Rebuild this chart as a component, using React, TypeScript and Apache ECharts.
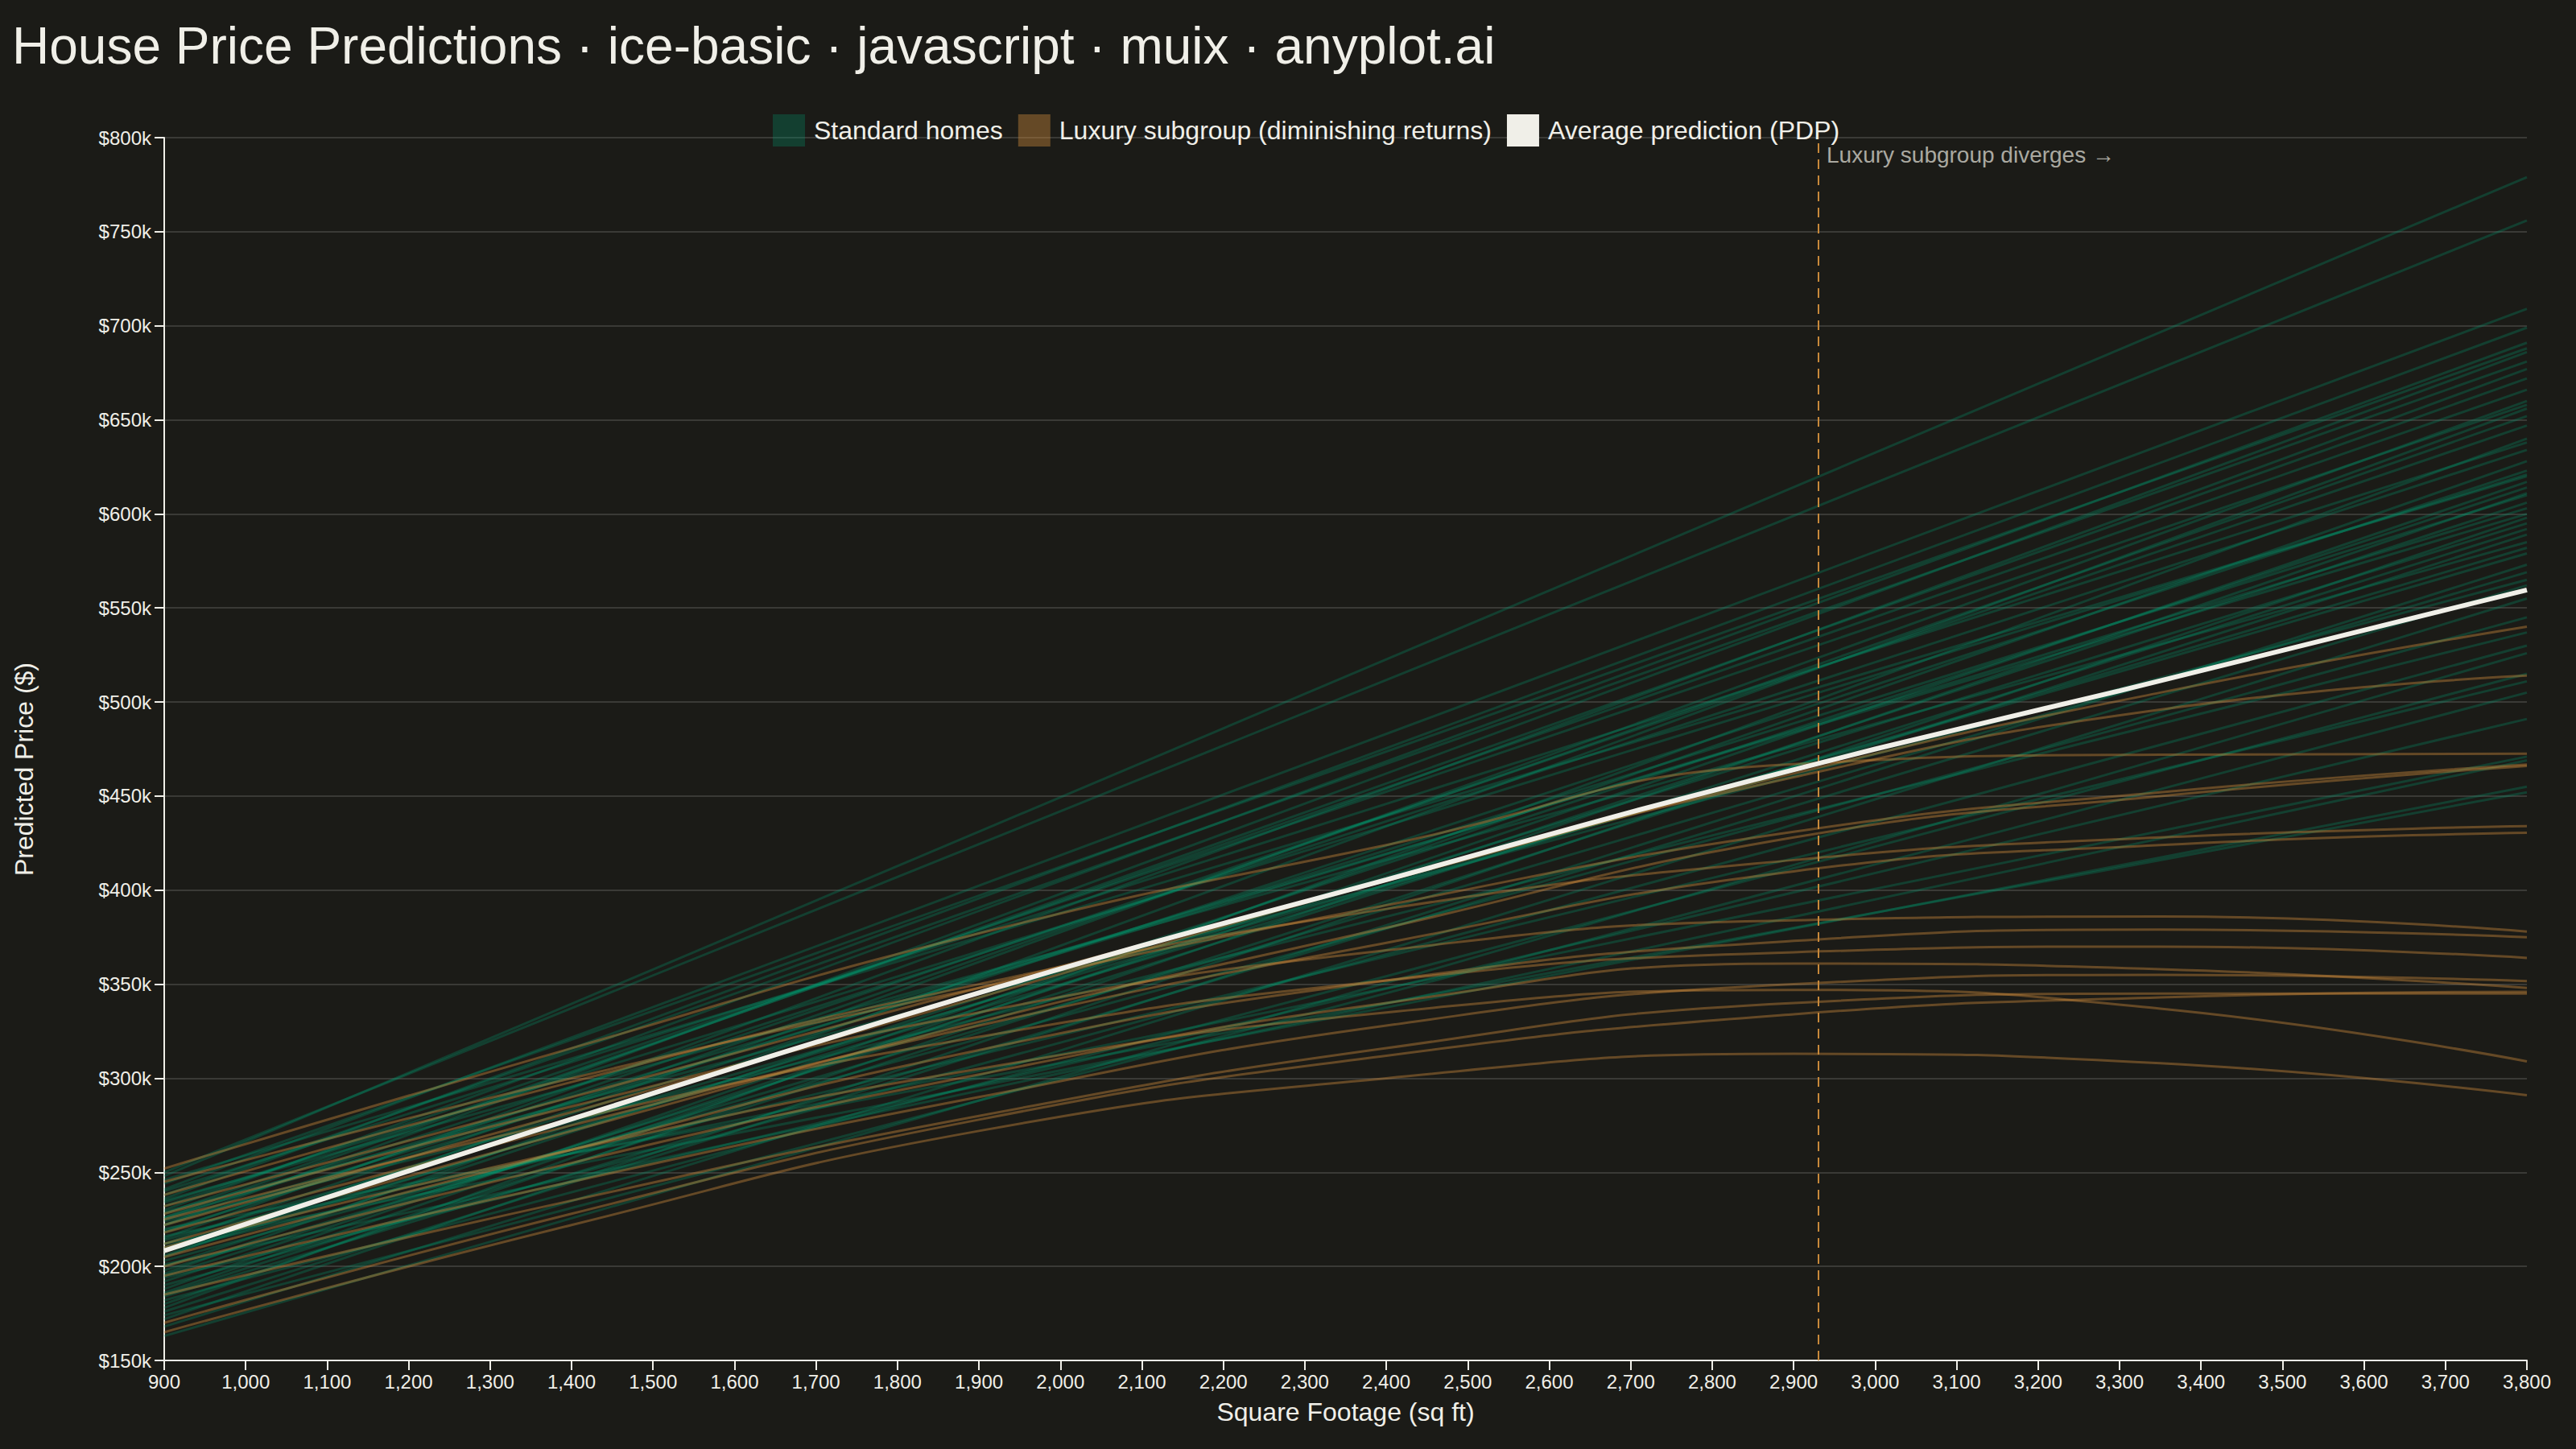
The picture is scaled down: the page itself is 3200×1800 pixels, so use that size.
import React, { useEffect, useRef } from "react";
import * as echarts from "echarts";

// ---- Data (prices in $ thousands, x in sq ft) ----
const X_RANGE = [900, 3800];

// Standard homes: straight ICE lines, value at 900 sq ft and at 3800 sq ft
const STANDARD_START = [
  248, 250, 241, 236, 230, 244, 222, 238, 215, 228, 205, 232, 196, 218, 225,
  188, 210, 234, 200, 180, 219, 192, 226, 172, 206, 185, 214, 176, 198, 168,
  203, 190, 163, 182, 208, 194, 216, 201, 212, 220, 246, 235, 178, 229,
  226, 212, 240, 186, 222, 195, 208, 184, 224, 174,
];
const STANDARD_END = [
  779, 756, 709, 699, 691, 688, 686, 681, 677, 666, 660, 658, 656, 647, 634,
  628, 623, 621, 614, 611, 610, 606, 600, 598, 595, 589, 579, 573, 569, 555,
  545, 530, 526, 515, 511, 491, 471, 469, 455, 452, 620, 585, 640, 565,
  672, 652, 638, 617, 603, 592, 582, 562, 537, 505,
];

// Luxury subgroup: curved ICE lines sampled at these square footages
const LUXURY_X = [900, 1400, 1900, 2400, 2900, 3350, 3800];
const LUXURY_LINES = [
  [232, 290, 348, 405, 462, 505, 540],
  [222, 282, 343, 405, 460, 496, 514],
  [252, 316, 377, 424, 467, 472, 472.5],
  [245, 300, 348, 392, 431, 452, 466.8],
  [212, 272, 330, 380, 428, 450, 466],
  [238, 298, 350, 390, 416, 428, 434],
  [218, 275, 328, 372, 410, 424, 430.5],
  [228, 285, 335, 368, 384, 386, 378],
  [205, 262, 315, 352, 373, 379, 375],
  [225, 278, 322, 352, 367, 370, 364],
  [200, 255, 302, 340, 361, 358, 348],
  [195, 245, 290, 328, 350, 355, 351.7],
  [185, 235, 280, 316, 340, 345, 345],
  [210, 262, 305, 335, 347, 337, 309],
  [170, 228, 278, 312, 334, 343, 346],
  [165, 222, 272, 300, 313, 308, 291],
];

// Average prediction (PDP)
const PDP_X = [900, 1200, 1500, 1800, 2100, 2400, 2700, 3000, 3300, 3600, 3800];
const PDP_Y = [208.3, 250.7, 292, 332.5, 370.5, 405.5, 441.5, 475, 506, 538.2, 559.6];

const DIVERGE_AT = 2930;
const Y_MIN = 150;
const Y_MAX = 800;
const Y_STEP = 50;
const X_STEP = 100;

const TITLE = "House Price Predictions · ice-basic · javascript · muix · anyplot.ai";
const NAME_STD = "Standard homes";
const NAME_LUX = "Luxury subgroup (diminishing returns)";
const NAME_PDP = "Average prediction (PDP)";

// ---- Style ----
const BG = "#1b1b17";
const INK = "#f0efe8";
const STD_COLOR = "rgba(0,158,115,0.28)";
const LUX_COLOR = "rgba(205,138,60,0.42)";
const GRID_COLOR = "rgba(240,239,232,0.15)";
const FONT = "'Liberation Sans', Arial, sans-serif";

export default function App() {
  const ref = useRef<HTMLDivElement>(null);

  useEffect(() => {
    if (!ref.current) return;
    const chart = echarts.init(ref.current, null, { renderer: "svg" });

    const series: any[] = [];
    STANDARD_START.forEach((s, i) => {
      series.push({
        type: "line",
        name: NAME_STD,
        data: [
          [X_RANGE[0], s],
          [X_RANGE[1], STANDARD_END[i]],
        ],
        showSymbol: false,
        symbol: "none",
        silent: true,
        lineStyle: { color: STD_COLOR, width: 3 },
        itemStyle: { color: STD_COLOR },
        z: 2,
      });
    });
    LUXURY_LINES.forEach((vals) => {
      series.push({
        type: "line",
        name: NAME_LUX,
        data: LUXURY_X.map((x, j) => [x, vals[j]]),
        smooth: 0.5,
        showSymbol: false,
        symbol: "none",
        silent: true,
        lineStyle: { color: LUX_COLOR, width: 3 },
        itemStyle: { color: LUX_COLOR },
        z: 3,
      });
    });
    series.push({
      type: "line",
      name: NAME_PDP,
      data: PDP_X.map((x, j) => [x, PDP_Y[j]]),
      smooth: 0.3,
      showSymbol: false,
      symbol: "none",
      silent: true,
      lineStyle: { color: INK, width: 6 },
      itemStyle: { color: INK },
      z: 5,
      markLine: {
        silent: true,
        symbol: ["none", "none"],
        label: { show: false },
        lineStyle: { color: "#c8893a", width: 2, type: [12, 8] },
        data: [{ xAxis: DIVERGE_AT }],
      },
      markPoint: {
        silent: true,
        symbol: "rect",
        symbolSize: 1,
        itemStyle: { color: "rgba(0,0,0,0)" },
        label: {
          show: true,
          position: [11, 8],
          formatter: "Luxury subgroup diverges →",
          color: "#aaa9a1",
          fontSize: 28,
          fontFamily: FONT,
        },
        data: [{ coord: [DIVERGE_AT, Y_MAX] }],
      },
    });

    chart.setOption({
      animation: false,
      backgroundColor: BG,
      textStyle: { fontFamily: FONT },
      title: {
        text: TITLE,
        left: 10,
        top: 20,
        textStyle: { color: INK, fontSize: 64, fontWeight: "normal", fontFamily: FONT },
      },
      legend: {
        left: 960,
        top: 142,
        padding: 0,
        itemWidth: 40,
        itemHeight: 40,
        itemGap: 19,
        icon: "rect",
        selectedMode: false,
        textStyle: { color: INK, fontSize: 32, fontFamily: FONT, padding: [0, 0, 0, 6] },
        data: [
          { name: NAME_STD, itemStyle: { color: STD_COLOR } },
          { name: NAME_LUX, itemStyle: { color: LUX_COLOR } },
          { name: NAME_PDP, itemStyle: { color: INK } },
        ],
      },
      grid: { left: 204, right: 61, top: 171, bottom: 110, containLabel: false },
      xAxis: {
        type: "value",
        min: X_RANGE[0],
        max: X_RANGE[1],
        interval: X_STEP,
        name: "Square Footage (sq ft)",
        nameLocation: "middle",
        nameGap: 48,
        nameTextStyle: { color: INK, fontSize: 32, fontFamily: FONT },
        axisLine: { show: true, lineStyle: { color: INK, width: 2 } },
        axisTick: { show: true, length: 12, lineStyle: { color: INK, width: 2 } },
        axisLabel: {
          color: INK,
          fontSize: 24,
          margin: 14,
          fontFamily: FONT,
          formatter: (v: number) => v.toLocaleString("en-US"),
        },
        splitLine: { show: false },
      },
      yAxis: {
        type: "value",
        min: Y_MIN,
        max: Y_MAX,
        interval: Y_STEP,
        name: "Predicted Price ($)",
        nameLocation: "middle",
        nameGap: 158,
        nameRotate: 90,
        nameTextStyle: { color: INK, fontSize: 32, fontFamily: FONT, padding: [0, 50, 0, 0] },
        axisLine: { show: true, lineStyle: { color: INK, width: 2 } },
        axisTick: { show: true, length: 12, lineStyle: { color: INK, width: 2 } },
        axisLabel: {
          color: INK,
          fontSize: 24,
          margin: 16,
          fontFamily: FONT,
          formatter: (v: number) => "$" + v + "k",
        },
        splitLine: { show: true, lineStyle: { color: GRID_COLOR, width: 2 } },
      },
      series,
    });

    return () => chart.dispose();
  }, []);

  return (
    <div
      ref={ref}
      style={{ position: "fixed", left: 0, top: 0, width: 3200, height: 1800, background: BG }}
    />
  );
}
